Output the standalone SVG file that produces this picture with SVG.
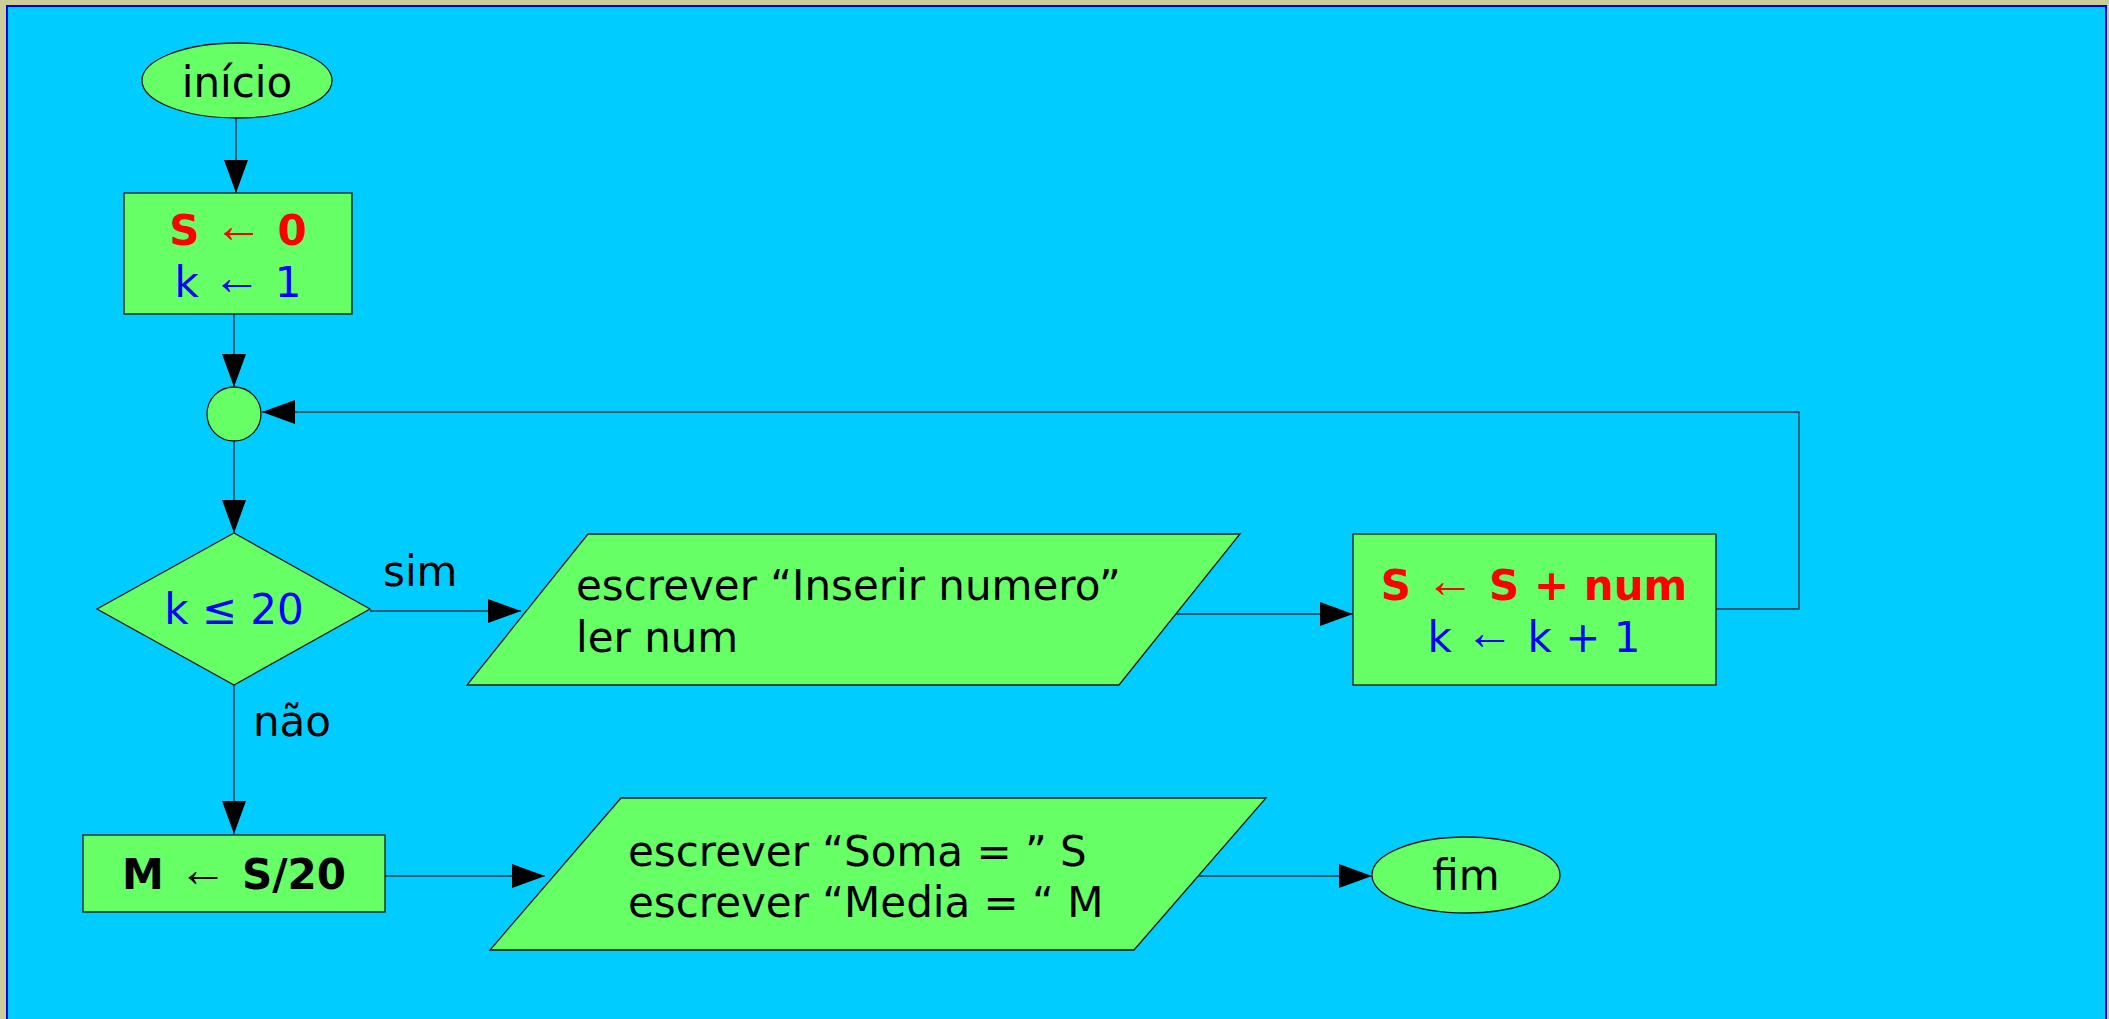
<svg xmlns="http://www.w3.org/2000/svg" width="2109" height="1019" viewBox="0 0 2109 1019">
  <defs>
    <marker id="arrow" markerUnits="userSpaceOnUse" markerWidth="34" markerHeight="24" refX="33" refY="12" orient="auto">
      <path d="M0,0 L33,12 L0,24 z" fill="#000"/>
    </marker>
    <style>
      .shape { fill: #66FF66; stroke: #1a1a1a; stroke-width: 1.3; }
      .edge { fill: none; stroke: #0d3a4a; stroke-width: 1.4; }
      .txt { font-family: "DejaVu Sans", Verdana, sans-serif; font-size: 42px; }
      .c { text-anchor: middle; }
      .b { font-weight: bold; }
      .ar { font-weight: normal; font-family: "Liberation Serif", "Times New Roman", serif; font-size: 49px; }
      .red { fill: #FF0000; }
      .blue { fill: #0000FF; }
      .blk { fill: #000; }
    </style>
  </defs>

  <!-- page background and frame -->
  <rect x="0" y="0" width="2109" height="1019" fill="#CCCC99"/>
  <rect x="7" y="6" width="2099" height="1100" fill="#00CCFF" stroke="#0000DD" stroke-width="2"/>

  <!-- connectors -->
  <g id="connectors">
    <line class="edge" x1="236" y1="118" x2="236" y2="193" marker-end="url(#arrow)"/>
    <line class="edge" x1="234" y1="314" x2="234" y2="387" marker-end="url(#arrow)"/>
    <line class="edge" x1="234" y1="441" x2="234" y2="533" marker-end="url(#arrow)"/>
    <line class="edge" x1="370" y1="611" x2="521" y2="611" marker-end="url(#arrow)"/>
    <line class="edge" x1="1176" y1="614" x2="1353" y2="614" marker-end="url(#arrow)"/>
    <polyline class="edge" points="1716,609 1799,609 1799,412 262,412" marker-end="url(#arrow)"/>
    <line class="edge" x1="234" y1="685" x2="234" y2="834" marker-end="url(#arrow)"/>
    <line class="edge" x1="385" y1="876" x2="545" y2="876" marker-end="url(#arrow)"/>
    <line class="edge" x1="1194" y1="876" x2="1372" y2="876" marker-end="url(#arrow)"/>
    <text class="txt blk" x="383" y="586">sim</text>
    <text class="txt blk" x="253" y="736">não</text>
  </g>

  <!-- start terminal -->
  <g id="inicio">
    <ellipse class="shape" cx="237" cy="80.5" rx="95" ry="37.5"/>
    <text class="txt c blk" x="237" y="97">início</text>
  </g>

  <!-- initialisation -->
  <g id="init">
    <rect class="shape" x="124" y="193" width="228" height="121"/>
    <text class="txt c b red" x="238" y="245">S <tspan class="ar" dy="-3">←</tspan><tspan dy="3"> 0</tspan></text>
    <text class="txt c blue" x="238" y="297">k <tspan class="ar" dy="-3">←</tspan><tspan dy="3"> 1</tspan></text>
  </g>

  <!-- loop junction -->
  <g id="junction">
    <circle class="shape" cx="234" cy="414" r="27"/>
  </g>

  <!-- loop condition -->
  <g id="condition">
    <polygon class="shape" points="234,533 370,609 234,685 97,609"/>
    <text class="txt c blue" x="234" y="624">k ≤ 20</text>
  </g>

  <!-- input -->
  <g id="input">
    <polygon class="shape" points="588,534 1240,534 1119,685 467,685"/>
    <text class="txt blk" x="576" y="600">escrever “Inserir numero”</text>
    <text class="txt blk" x="576" y="652">ler num</text>
  </g>

  <!-- accumulate -->
  <g id="accumulate">
    <rect class="shape" x="1353" y="534" width="363" height="151"/>
    <text class="txt c b red" x="1534" y="600">S <tspan class="ar" dy="-3">←</tspan><tspan dy="3"> S + num</tspan></text>
    <text class="txt c blue" x="1534" y="652">k <tspan class="ar" dy="-3">←</tspan><tspan dy="3"> k + 1</tspan></text>
  </g>

  <!-- average -->
  <g id="average">
    <rect class="shape" x="83" y="835" width="302" height="77"/>
    <text class="txt c b blk" x="234" y="889">M <tspan class="ar" dy="-3">←</tspan><tspan dy="3"> S/20</tspan></text>
  </g>

  <!-- output -->
  <g id="output">
    <polygon class="shape" points="621,798 1266,798 1134,950 490,950"/>
    <text class="txt blk" x="628" y="866">escrever “Soma = ” S</text>
    <text class="txt blk" x="628" y="917">escrever “Media = “ M</text>
  </g>

  <!-- end terminal -->
  <g id="fim">
    <ellipse class="shape" cx="1466" cy="875" rx="94" ry="38"/>
    <text class="txt c blk" x="1466" y="890">fim</text>
  </g>
</svg>
